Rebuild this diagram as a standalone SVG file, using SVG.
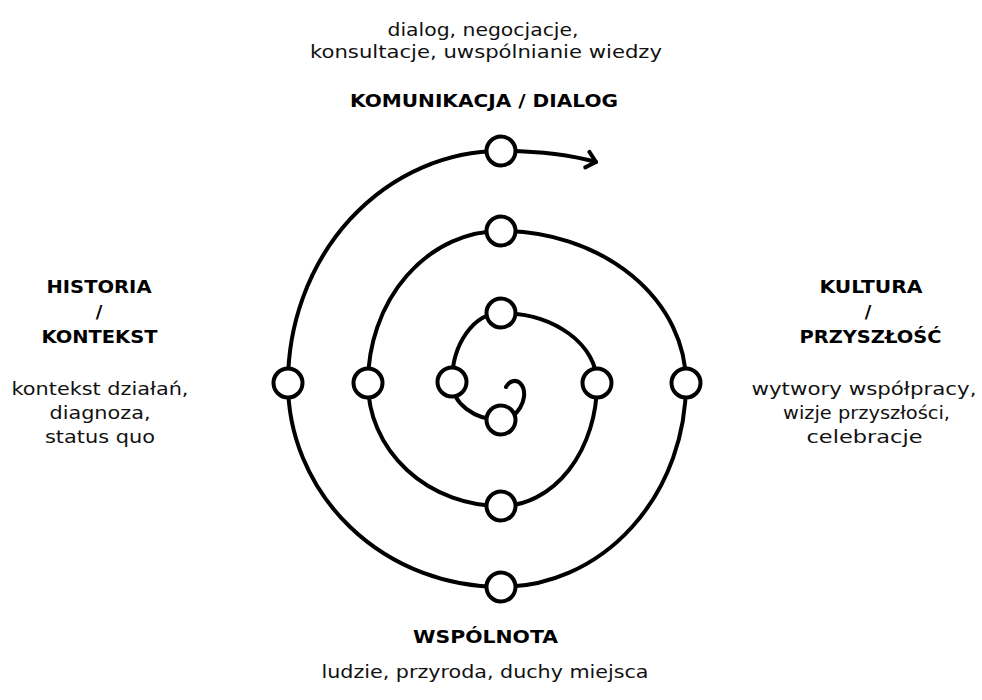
<svg xmlns="http://www.w3.org/2000/svg" width="982" height="700" viewBox="0 0 982 700">
<style>
.bg{fill:#ffffff}
.spiral{fill:none;stroke:#000;stroke-width:4;stroke-linecap:round;stroke-linejoin:round}
.node{fill:#fff;stroke:#000;stroke-width:4}
.t{font-family:"DejaVu Sans","Liberation Sans",sans-serif;font-size:18px;fill:#111;text-anchor:middle}
.b{font-family:"DejaVu Sans","Liberation Sans",sans-serif;font-size:18px;font-weight:bold;fill:#000;text-anchor:middle}
</style>
<defs>
<marker id="arrow" markerUnits="userSpaceOnUse" viewBox="-12 -10 14 20" refX="0" refY="0" markerWidth="14" markerHeight="20" orient="auto" overflow="visible">
<path d="M -9 -8 L 0 0 L -9 8" fill="none" stroke="#000" stroke-width="4" stroke-linecap="round" stroke-linejoin="round"/>
</marker>
</defs>
<rect class="bg" x="0" y="0" width="982" height="700"/>
<g id="connectors">
<path class="spiral" d="M 506 387 C 509 381 516 379 520 383 C 526 389 527 404 512 417"/>
<path class="spiral" marker-end="url(#arrow)" d="M 501 420 A 49 38 0 0 1 452 382 A 49 69 0 0 1 501 313 A 96 70 0 0 1 597 383 A 96 123 0 0 1 501 506 A 133 123 0 0 1 368 383 A 133 152 0 0 1 501 231 A 185 152 0 0 1 686 383 A 185 204 0 0 1 501 587 A 213 204 0 0 1 288 383 A 213 232 0 0 1 501 151 C 535 151 570 155 596 162"/>
</g>
<g id="node-bottom-inner"><circle class="node" cx="501" cy="420" r="14.5"/></g>
<g id="node-left-3"><circle class="node" cx="452" cy="382" r="14.5"/></g>
<g id="node-top-3"><circle class="node" cx="501" cy="313" r="14.5"/></g>
<g id="node-right-3"><circle class="node" cx="597" cy="383" r="14.5"/></g>
<g id="node-bottom-2"><circle class="node" cx="501" cy="506" r="14.5"/></g>
<g id="node-left-2"><circle class="node" cx="368" cy="383" r="14.5"/></g>
<g id="node-top-2"><circle class="node" cx="501" cy="231" r="14.5"/></g>
<g id="node-right-1"><circle class="node" cx="686" cy="383" r="14.5"/></g>
<g id="node-bottom-1"><circle class="node" cx="501" cy="587" r="14.5"/></g>
<g id="node-left-1"><circle class="node" cx="288" cy="383" r="14.5"/></g>
<g id="node-top-1"><circle class="node" cx="501" cy="151" r="14.5"/></g>
<g id="label-top">
<text class="t" x="483" y="36" textLength="191" lengthAdjust="spacingAndGlyphs">dialog, negocjacje,</text>
<text class="t" x="486" y="58" textLength="352" lengthAdjust="spacingAndGlyphs">konsultacje, uwspólnianie wiedzy</text>
<text class="b" x="484" y="107" textLength="268" lengthAdjust="spacingAndGlyphs">KOMUNIKACJA / DIALOG</text>
</g>
<g id="label-left">
<text class="b" x="99" y="293" textLength="105" lengthAdjust="spacingAndGlyphs">HISTORIA</text>
<text class="b" x="99" y="318">/</text>
<text class="b" x="99.5" y="343" textLength="116" lengthAdjust="spacingAndGlyphs">KONTEKST</text>
<text class="t" x="100" y="395" textLength="177" lengthAdjust="spacingAndGlyphs">kontekst działań,</text>
<text class="t" x="100" y="419" textLength="101" lengthAdjust="spacingAndGlyphs">diagnoza,</text>
<text class="t" x="100" y="443" textLength="110" lengthAdjust="spacingAndGlyphs">status quo</text>
</g>
<g id="label-right">
<text class="b" x="871" y="293" textLength="103" lengthAdjust="spacingAndGlyphs">KULTURA</text>
<text class="b" x="868" y="318">/</text>
<text class="b" x="870.5" y="343" textLength="142" lengthAdjust="spacingAndGlyphs">PRZYSZŁOŚĆ</text>
<text class="t" x="864" y="395" textLength="225" lengthAdjust="spacingAndGlyphs">wytwory współpracy,</text>
<text class="t" x="866.5" y="419" textLength="167" lengthAdjust="spacingAndGlyphs">wizje przyszłości,</text>
<text class="t" x="864.5" y="443" textLength="116" lengthAdjust="spacingAndGlyphs">celebracje</text>
</g>
<g id="label-bottom">
<text class="b" x="485.5" y="643" textLength="145" lengthAdjust="spacingAndGlyphs">WSPÓLNOTA</text>
<text class="t" x="485" y="678" textLength="327" lengthAdjust="spacingAndGlyphs">ludzie, przyroda, duchy miejsca</text>
</g>
</svg>
